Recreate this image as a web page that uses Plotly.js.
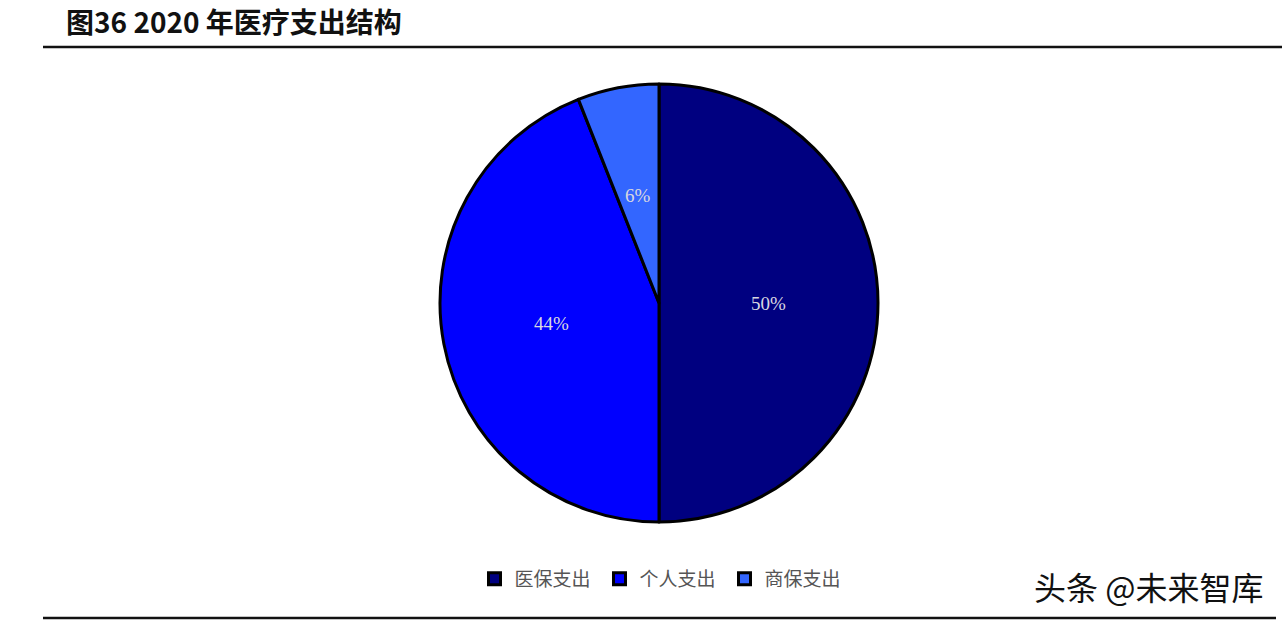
<!DOCTYPE html>
<html>
<head>
<meta charset="utf-8">
<script src="https://cdn.plot.ly/plotly-3.0.1.min.js"></script>
<style>html,body{margin:0;padding:0;background:#fff;}#chart{width:1282px;height:624px;}</style>
</head>
<body>
<div id="chart"></div>
<script>
const categories = ["医保支出", "个人支出", "商保支出"];
const shares = [50, 44, 6];
const sliceColors = ["#000080", "#0000ff", "#3366ff"];

const W = 1282, H = 624;
const cx = 659, cy = 303, R = 219;

const trace = {
  type: "pie",
  labels: categories,
  values: shares,
  sort: false,
  direction: "clockwise",
  rotation: 0,
  marker: { colors: sliceColors, line: { color: "#000000", width: 3 } },
  textinfo: "none",
  domain: { x: [(cx - R) / W, (cx + R) / W], y: [(H - cy - R) / H, (H - cy + R) / H] },
  hoverinfo: "label+percent"
};

// percentage labels placed at half radius on each slice's mid-angle (Excel "center" style)
const total = shares.reduce((a, b) => a + b, 0);
let cum = 0;
const labelAnns = shares.map(v => {
  const mid = (cum + v / 2) / total;
  cum += v;
  const th = 2 * Math.PI * mid;
  const px = cx + 0.5 * R * Math.sin(th);
  const py = cy - 0.5 * R * Math.cos(th);
  return {
    text: Math.round(v / total * 100) + "%",
    xref: "paper", yref: "paper", x: px / W, y: (H - py) / H,
    xanchor: "center", yanchor: "middle", showarrow: false,
    font: { family: "Liberation Serif, DejaVu Serif, serif", size: 19, color: "#d8d8e0" }
  };
});

const layout = {
  width: W, height: H,
  margin: { l: 0, r: 0, t: 0, b: 0 },
  paper_bgcolor: "#ffffff",
  showlegend: true,
  legend: {
    orientation: "h",
    x: 662 / W, xanchor: "center",
    y: (H - 579) / H, yanchor: "middle",
    font: { family: "Noto Sans CJK SC, sans-serif", size: 19, color: "#555555" },
    itemwidth: 30,
    entrywidth: 80,
    entrywidthmode: "pixels",
    tracegroupgap: 0
  },
  shapes: [
    { type: "line", xref: "paper", yref: "paper", x0: 43 / W, x1: 1282 / W, y0: (H - 47) / H, y1: (H - 47) / H, line: { color: "#111111", width: 2.5 } },
    { type: "line", xref: "paper", yref: "paper", x0: 43 / W, x1: 1276 / W, y0: (H - 618) / H, y1: (H - 618) / H, line: { color: "#111111", width: 2.5 } }
  ],
  annotations: [
    { text: "<b>图36 2020 年医疗支出结构</b>", xref: "paper", yref: "paper", x: 64 / W, y: (H - 21) / H, xanchor: "left", yanchor: "middle", showarrow: false,
      font: { family: "Noto Sans CJK SC, sans-serif", size: 28, color: "#111111" } },
    { text: "头条 @未来智库", xref: "paper", yref: "paper", x: 1265 / W, y: (H - 586) / H, xanchor: "right", yanchor: "middle", showarrow: false,
      font: { family: "Noto Sans CJK SC, sans-serif", size: 32, color: "#111111" } }
  ].concat(labelAnns)
};

Plotly.newPlot("chart", [trace], layout, { displayModeBar: false, staticPlot: true });
</script>
</body>
</html>
